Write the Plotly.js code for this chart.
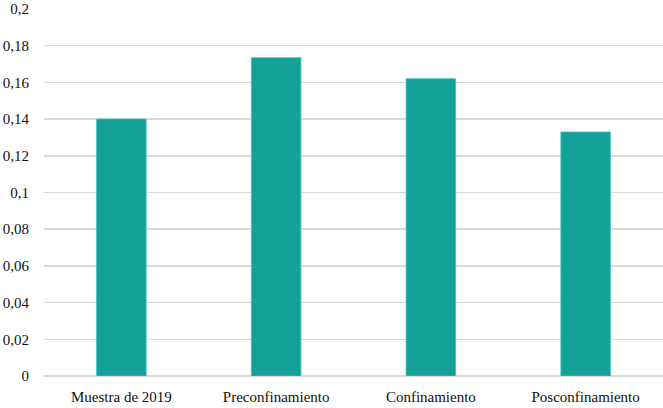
<!DOCTYPE html>
<html>
<head>
<meta charset="utf-8">
<script src="https://cdn.plot.ly/plotly-3.0.1.min.js"></script>
<style>
  html, body { margin: 0; padding: 0; background: #ffffff; }
  #chart { width: 663px; height: 408px; }
</style>
</head>
<body>
<div id="chart"></div>
<script>
var categories = ["Muestra de 2019", "Preconfinamiento", "Confinamiento", "Posconfinamiento"];
var values = [0.140, 0.1735, 0.162, 0.133];
var tickValues = [0, 0.02, 0.04, 0.06, 0.08, 0.1, 0.12, 0.14, 0.16, 0.18, 0.2];

var data = [
  {
    type: "bar",
    x: categories,
    y: values,
    marker: {
      color: "#14a19a",
      line: { color: "#3cc0b8", width: 0.8 },
    },
    hoverinfo: "none",
  },
];

var layout = {
  width: 663,
  height: 408,
  margin: { l: 44, r: 0, t: 9, b: 32 },
  paper_bgcolor: "#ffffff",
  plot_bgcolor: "#ffffff",
  separators: ",.",
  bargap: 0.68,
  showlegend: false,
  font: { family: "Liberation Serif, serif", size: 15, color: "#111111" },
  xaxis: {
    showgrid: false,
    showline: false,
    ticks: "",
    ticklabelstandoff: 10,
    tickfont: { size: 15 },
  },
  yaxis: {
    range: [0, 0.2],
    tickvals: tickValues,
    tickformat: "~g",
    showgrid: true,
    gridcolor: "#d9d9d9",
    gridwidth: 1.5,
    zeroline: true,
    zerolinecolor: "#d9d9d9",
    zerolinewidth: 1.5,
    ticks: "",
    ticklabelstandoff: 14,
    tickfont: { size: 15 },
  },
};

Plotly.newPlot("chart", data, layout, { displayModeBar: false, staticPlot: true });
</script>
</body>
</html>
